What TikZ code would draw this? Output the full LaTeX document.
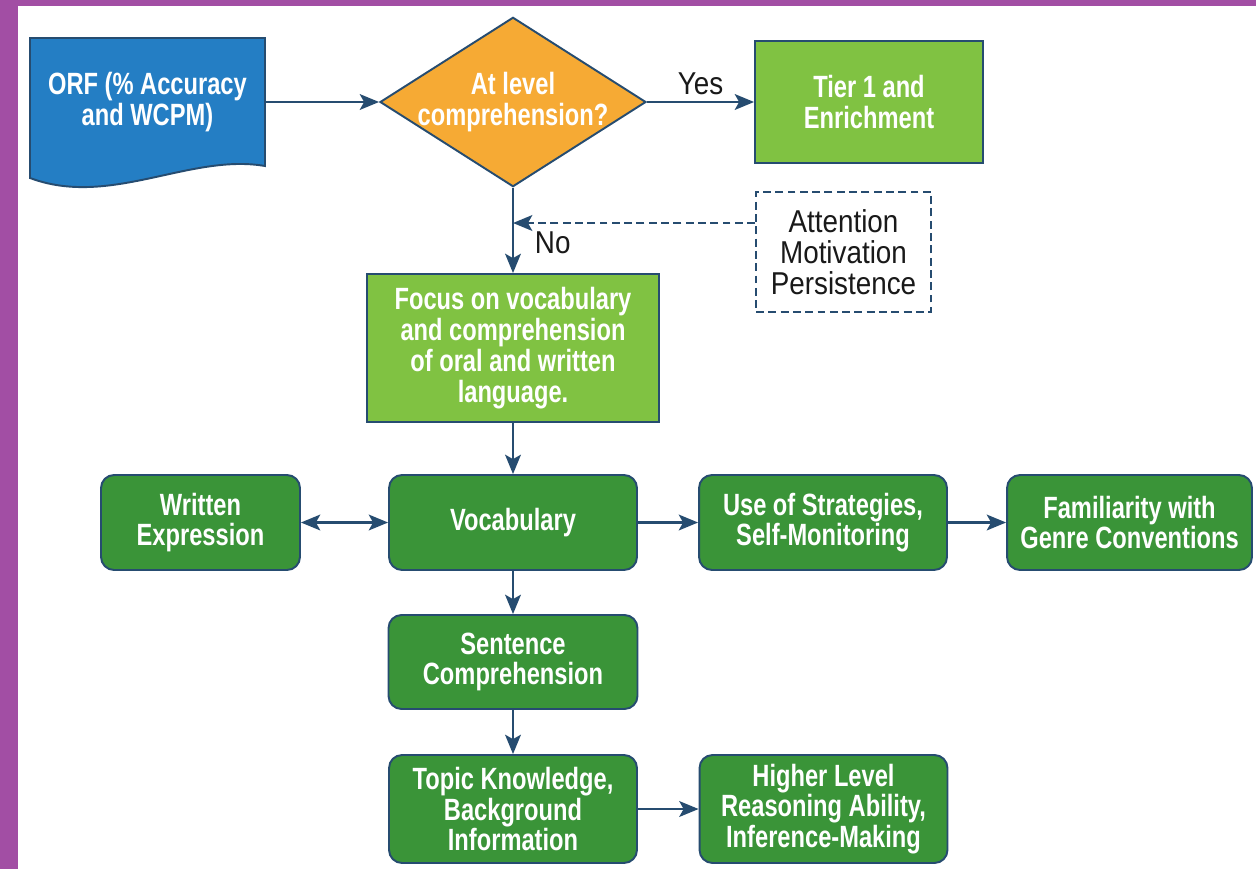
\documentclass[tikz,border=0pt]{standalone}
\usepackage{fontspec}
\setmainfont{Liberation Sans}[FakeStretch=0.77]
\newfontfamily\plainfont{Liberation Sans}[FakeStretch=0.88]
\usetikzlibrary{arrows.meta,shapes.geometric}

\definecolor{framepurple}{RGB}{162,78,164}
\definecolor{orfblue}{RGB}{36,126,196}
\definecolor{qorange}{RGB}{246,170,52}
\definecolor{litegreen}{RGB}{128,194,66}
\definecolor{darkgreen}{RGB}{58,148,56}
\definecolor{edgeblue}{RGB}{38,76,112}

\tikzstyle{boxtext}=[text=white, font=\fontsize{17.5}{17.5}\selectfont\bfseries, align=center, inner sep=0pt]
\tikzstyle{litebox}=[boxtext, rectangle, draw=edgeblue, line width=1.1pt, fill=litegreen]
\tikzstyle{darkbox}=[boxtext, rectangle, rounded corners=0.26cm, draw=edgeblue, line width=1.1pt, fill=darkgreen]
\tikzstyle{decision}=[boxtext, diamond, aspect=1.57, inner sep=-2pt, draw=edgeblue, line width=1.1pt, fill=qorange]
\tikzstyle{notebox}=[rectangle, draw=edgeblue, line width=1.1pt, dash pattern=on 4.5pt off 2.5pt, text=black!90, font=\plainfont\fontsize{18}{17.5}\selectfont, align=center]
\tikzstyle{flow}=[draw, line width=1.2pt, edgeblue, ->]
\tikzstyle{weight}=[font=\plainfont\fontsize{18}{18}\selectfont, text=black!90]

\begin{document}
\begin{tikzpicture}[x=0.02cm, y=-0.02cm, >={Stealth[length=11pt,width=9pt,inset=2.5pt]}]

    \useasboundingbox (0,0) rectangle (1256,869);
    \fill[white] (0,0) rectangle (1256,869);
    \fill[framepurple] (0,0) rectangle (18,869);
    \fill[framepurple] (0,0) rectangle (1256,6);

    % document shape
    \path[draw=edgeblue, line width=1.1pt, fill=orfblue] (30,38) -- (265,38) -- (265,166)
        .. controls (190,153) and (110,208) .. (30,178) -- cycle;
    \node[boxtext, minimum width=4.7cm, minimum height=2.56cm] (orf) at (147.5,102) {ORF (\% Accuracy\\and WCPM)};

    \node[decision] (dec) at (513,102) {At level\\comprehension?};
    \node[litebox, minimum width=4.56cm, minimum height=2.44cm] (tier) at (869,102) {Tier 1 and\\Enrichment};
    \node[notebox, minimum width=3.5cm, minimum height=2.4cm] (attn) at (843.5,252) {Attention\\Motivation\\Persistence};
    \node[litebox, minimum width=5.84cm, minimum height=2.96cm] (focus) at (513,348) {Focus on vocabulary\\and comprehension\\of oral and written\\language.};

    \foreach \x/\w/\name/\txt in {200.5/3.98/written/{Written\\Expression}, 513/4.96/vocab/{Vocabulary},
        823/4.96/strat/{Use of Strategies,\\Self-Monitoring}, 1129.5/4.9/genre/{Familiarity with\\Genre Conventions}}
        \node[darkbox, minimum width=\w cm, minimum height=1.9cm] (\name) at (\x,522.5) {\txt};

    \node[darkbox, minimum width=4.98cm, minimum height=1.88cm] (sentence) at (513,662) {Sentence\\Comprehension};

    \foreach \x/\name/\txt in {513/topic/{Topic Knowledge,\\Background\\Information}, 823.5/higher/{Higher Level\\Reasoning Ability,\\Inference-Making}}
        \node[darkbox, minimum width=4.96cm, minimum height=2.16cm] (\name) at (\x,809) {\txt};

    \path[flow] (orf) -- (dec);
    \path[flow] (dec) -- node[weight, above] {Yes} (tier);
    \path[flow] (dec) -- node[weight, pos=0.65, right=0.3cm] {No} (focus);

    \coordinate (meet) at (513,223);
    \path[flow, dash pattern=on 4.5pt off 2.5pt] (attn.west |- meet) -- (meet);

    \path[flow, <->] (written) -- (vocab);

    \foreach \source/\dest in {focus/vocab, vocab/strat, strat/genre, vocab/sentence, sentence/topic, topic/higher}
        \path[flow] (\source) -- (\dest);

\end{tikzpicture}
\end{document}
